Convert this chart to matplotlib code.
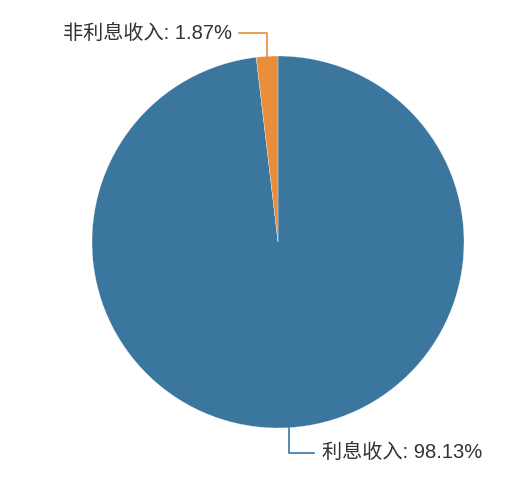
import numpy as np
import matplotlib.pyplot as plt

plt.rcParams['font.family'] = ['Liberation Sans', 'Noto Sans CJK SC', 'DejaVu Sans']

# 数据
labels = ['利息收入', '非利息收入']
values = [98.13, 1.87]
colors = ['#3b769f', '#e88d3a']

W, H = 518, 487
cx, cy, r = 278, H - 242, 186

fig = plt.figure(figsize=(W / 100, H / 100), dpi=100)
ax = fig.add_axes([0, 0, 1, 1])

wedges, _ = ax.pie(values, colors=colors, startangle=90, counterclock=False,
                   center=(cx, cy), radius=r,
                   wedgeprops=dict(edgecolor='white', linewidth=0.2))

# 引导线和标签
for w, lab, v, col in zip(wedges, labels, values, colors):
    mid = np.deg2rad((w.theta1 + w.theta2) / 2)
    x0 = cx + r * np.cos(mid)
    y0 = cy + r * np.sin(mid)
    if y0 > cy:
        y1 = y0 + 23
        x2 = x0 - 28
        ha = 'right'
        tx = x2 - 7
    else:
        y1 = y0 - 25
        x2 = x0 + 25
        ha = 'left'
        tx = x2 + 8
    ax.plot([x0, x0, x2], [y0, y1, y1], color=col, linewidth=1.2)
    ax.text(tx, y1, f'{lab}: {v:.2f}%', ha=ha, va='center',
            fontsize=14.5, color='#333333')

ax.set_xlim(0, W)
ax.set_ylim(0, H)
ax.set_aspect('equal')
ax.axis('off')

fig.savefig('out.png', dpi=100)
